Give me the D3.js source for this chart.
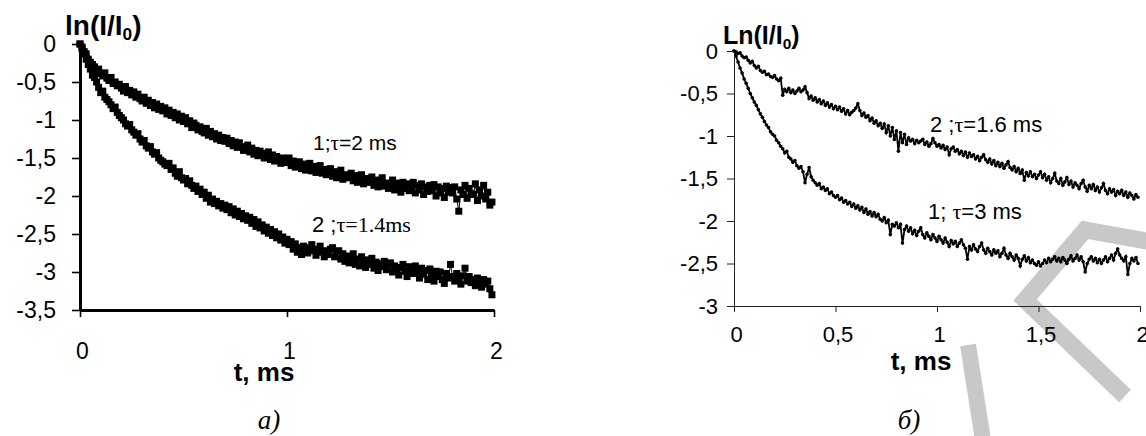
<!DOCTYPE html>
<html>
<head>
<meta charset="utf-8">
<script src="https://cdn.jsdelivr.net/npm/d3@7"></script>
<style>
  body { margin: 0; background: #fff; }
</style>
</head>
<body>
<div id="chart"></div>
<script>
// sampling step (ms) of the recordings
var dtA = 0.01, dtB = 0.01;

// panel a) : 1; tau=2 ms (upper)
var curveA1 = [0, -0.04, -0.1, -0.13, -0.2, -0.24, -0.27, -0.3, -0.36, -0.33,
  -0.39, -0.42, -0.38, -0.45, -0.48, -0.44, -0.52, -0.5, -0.55, -0.53,
  -0.58, -0.62, -0.56, -0.64, -0.61, -0.67, -0.63, -0.7, -0.66, -0.72,
  -0.75, -0.7, -0.78, -0.74, -0.81, -0.77, -0.84, -0.79, -0.86, -0.82,
  -0.88, -0.84, -0.92, -0.87, -0.94, -0.9, -0.97, -0.92, -1.0, -0.95,
  -1.02, -0.97, -1.05, -1.01, -1.1, -1.04, -1.07, -1.13, -1.09, -1.15,
  -1.17, -1.11, -1.2, -1.15, -1.22, -1.18, -1.25, -1.2, -1.27, -1.23,
  -1.28, -1.24, -1.31, -1.27, -1.34, -1.29, -1.36, -1.3, -1.35, -1.4,
  -1.38, -1.33, -1.42, -1.37, -1.45, -1.4, -1.47, -1.41, -1.44, -1.5,
  -1.47, -1.42, -1.52, -1.46, -1.54, -1.48, -1.51, -1.57, -1.5, -1.55,
  -1.56, -1.5, -1.6, -1.54, -1.62, -1.57, -1.55, -1.64, -1.58, -1.66,
  -1.63, -1.57, -1.67, -1.61, -1.69, -1.64, -1.6, -1.7, -1.65, -1.72,
  -1.7, -1.64, -1.74, -1.68, -1.76, -1.7, -1.66, -1.78, -1.72, -1.75,
  -1.76, -1.7, -1.8, -1.73, -1.82, -1.76, -1.72, -1.84, -1.77, -1.81,
  -1.82, -1.75, -1.86, -1.79, -1.88, -1.8, -1.76, -1.87, -1.83, -1.9,
  -1.86, -1.79, -1.92, -1.83, -1.88, -1.95, -1.82, -1.9, -1.84, -1.93,
  -1.9, -1.82, -1.96, -1.86, -1.92, -1.84, -1.98, -1.88, -1.94, -1.86,
  -1.93, -1.85, -2.0, -1.88, -1.96, -1.9, -2.02, -1.87, -1.95, -1.89,
  -1.96, -1.88, -2.04, -2.2, -1.92, -1.98, -1.86, -2.03, -1.9, -1.97,
  -1.98, -1.84, -2.06, -1.92, -2.0, -1.86, -2.04, -1.95, -2.12, -2.08];

// panel a) : 2; tau=1.4 ms (lower)
var curveA2 = [0, -0.06, -0.13, -0.2, -0.27, -0.33, -0.41, -0.44, -0.5, -0.57,
  -0.64, -0.62, -0.7, -0.73, -0.76, -0.8, -0.85, -0.83, -0.9, -0.94,
  -0.97, -1.0, -1.05, -1.08, -1.06, -1.13, -1.16, -1.2, -1.18, -1.25,
  -1.29, -1.27, -1.34, -1.37, -1.35, -1.42, -1.45, -1.43, -1.5, -1.53,
  -1.55, -1.58, -1.6, -1.57, -1.65, -1.63, -1.7, -1.74, -1.68, -1.76,
  -1.79, -1.77, -1.84, -1.8, -1.86, -1.9, -1.87, -1.94, -1.91, -1.98,
  -1.95, -2.03, -1.99, -2.08, -2.04, -2.1, -2.07, -2.13, -2.1, -2.16,
  -2.12, -2.18, -2.14, -2.22, -2.17, -2.25, -2.2, -2.27, -2.23, -2.3,
  -2.26, -2.32, -2.28, -2.36, -2.31, -2.4, -2.34, -2.42, -2.38, -2.46,
  -2.41, -2.49, -2.44, -2.52, -2.47, -2.55, -2.5, -2.58, -2.54, -2.62,
  -2.57, -2.64, -2.6, -2.7, -2.63, -2.74, -2.68, -2.77, -2.66, -2.72,
  -2.75, -2.68, -2.64, -2.72, -2.78, -2.7, -2.66, -2.74, -2.8, -2.72,
  -2.77, -2.7, -2.68, -2.8, -2.74, -2.72, -2.83, -2.76, -2.86, -2.79,
  -2.88, -2.81, -2.76, -2.9, -2.83, -2.92, -2.8, -2.86, -2.94, -2.84,
  -2.9, -2.82, -2.95, -2.87, -2.98, -2.89, -2.93, -2.86, -2.97, -2.91,
  -2.88, -3.0, -2.92, -2.96, -3.04, -2.94, -2.9, -2.99, -3.06, -2.93,
  -2.97, -3.02, -2.92, -3.0, -3.08, -2.95, -3.03, -2.98, -3.1, -2.96,
  -3.04, -3.12, -2.99, -3.06, -3.0, -3.1, -3.15, -3.02, -3.08, -2.9,
  -3.06, -3.12, -3.02, -3.1, -3.16, -3.05, -2.95, -3.12, -3.06, -3.14,
  -3.1, -3.18, -3.08, -3.14, -3.2, -3.1, -3.16, -3.12, -3.22, -3.3];

// panel б) : 2; tau=1.6 ms (upper)
var curveB2 = [0, -0.01, -0.03, -0.02, -0.06, -0.08, -0.07, -0.11, -0.14, -0.12,
  -0.17, -0.2, -0.18, -0.23, -0.25, -0.24, -0.28, -0.27, -0.3, -0.31,
  -0.29, -0.33, -0.35, -0.32, -0.52, -0.45, -0.48, -0.44, -0.49, -0.46,
  -0.5, -0.47, -0.44, -0.48, -0.46, -0.42, -0.49, -0.56, -0.53, -0.58,
  -0.55, -0.6, -0.57, -0.62, -0.59, -0.64, -0.61, -0.66, -0.63, -0.68,
  -0.65, -0.69, -0.66, -0.71, -0.68, -0.74, -0.7, -0.75, -0.72, -0.7,
  -0.67, -0.62, -0.7, -0.76, -0.73, -0.78, -0.76, -0.82, -0.79, -0.85,
  -0.82, -0.88, -0.85, -0.91, -0.86, -0.96, -0.88, -1.0, -0.9, -1.04,
  -0.94, -1.18, -0.96, -1.08, -0.98, -1.1, -1.02, -1.06, -1.04, -1.09,
  -1.05, -1.08, -1.06, -1.04, -1.1, -1.07, -1.12, -1.09, -1.03, -1.08,
  -1.12, -1.1, -1.14, -1.11, -1.16, -1.13, -1.22, -1.15, -1.13, -1.18,
  -1.16, -1.21, -1.18, -1.23, -1.19, -1.25, -1.2, -1.24, -1.22, -1.27,
  -1.24, -1.29, -1.25, -1.22, -1.28, -1.31, -1.27, -1.33, -1.29, -1.35,
  -1.31, -1.36, -1.32, -1.38, -1.34, -1.3, -1.37, -1.4, -1.36, -1.42,
  -1.38, -1.44, -1.4, -1.52, -1.43, -1.47, -1.42, -1.48, -1.45, -1.5,
  -1.46, -1.42, -1.49, -1.45, -1.52, -1.48, -1.55, -1.5, -1.44, -1.53,
  -1.56, -1.5, -1.58, -1.54, -1.49, -1.57, -1.53, -1.6, -1.55, -1.58,
  -1.62, -1.56, -1.52, -1.6, -1.65, -1.58, -1.62, -1.57, -1.64, -1.6,
  -1.66, -1.61, -1.56, -1.64, -1.68, -1.62, -1.66, -1.63, -1.7, -1.65,
  -1.68, -1.64, -1.7, -1.66, -1.72, -1.67, -1.7, -1.74, -1.69, -1.72];

// panel б) : 1; tau=3 ms (lower)
var curveB1 = [0, -0.06, -0.13, -0.2, -0.26, -0.33, -0.38, -0.44, -0.5, -0.55,
  -0.6, -0.64, -0.69, -0.74, -0.78, -0.83, -0.87, -0.9, -0.95, -0.98,
  -1.0, -1.05, -1.08, -1.12, -1.15, -1.2, -1.18, -1.25, -1.27, -1.31,
  -1.29, -1.35, -1.38, -1.36, -1.42, -1.55, -1.45, -1.37, -1.48, -1.52,
  -1.55, -1.58, -1.56, -1.62, -1.6, -1.64, -1.62, -1.68, -1.66, -1.7,
  -1.72, -1.7, -1.75, -1.73, -1.78, -1.76, -1.8, -1.78, -1.83, -1.8,
  -1.85, -1.82, -1.87, -1.84, -1.9, -1.86, -1.92, -1.89, -1.94, -1.9,
  -1.95, -1.92, -1.98, -2.0, -1.96, -2.02, -1.99, -2.16, -2.04, -2.06,
  -2.02, -2.08, -2.04, -2.26, -2.1, -2.06, -2.12, -2.08, -2.15, -2.11,
  -2.17, -2.12, -2.08, -2.16, -2.2, -2.14, -2.18, -2.22, -2.16, -2.2,
  -2.24, -2.18, -2.22, -2.26, -2.2, -2.25, -2.3, -2.23, -2.27, -2.24,
  -2.3, -2.26, -2.22, -2.28, -2.32, -2.45, -2.3, -2.34, -2.28, -2.33,
  -2.36, -2.3, -2.26, -2.34, -2.38, -2.32, -2.36, -2.4, -2.34, -2.38,
  -2.35, -2.42, -2.38, -2.32, -2.4, -2.44, -2.38, -2.42, -2.46, -2.4,
  -2.44, -2.53, -2.45, -2.41, -2.47, -2.43, -2.49, -2.46, -2.5, -2.52,
  -2.48, -2.53, -2.5, -2.46, -2.49, -2.44, -2.48, -2.45, -2.42, -2.47,
  -2.44, -2.48, -2.43, -2.46, -2.5, -2.45, -2.41, -2.47, -2.44, -2.4,
  -2.46, -2.42, -2.48, -2.6, -2.5, -2.45, -2.42, -2.47, -2.44, -2.49,
  -2.45, -2.5, -2.46, -2.42, -2.48, -2.44, -2.4, -2.46, -2.38, -2.33,
  -2.4, -2.44, -2.47, -2.42, -2.63, -2.5, -2.44, -2.47, -2.43, -2.5];

var xTicksA = [0, 1, 2];
var yTicksA = [0, -0.5, -1, -1.5, -2, -2.5, -3, -3.5];
var xTicksB = [0, 0.5, 1, 1.5, 2];
var yTicksB = [0, -0.5, -1, -1.5, -2, -2.5, -3];

var sans = "Arial, 'Liberation Sans', sans-serif";
var serif = "'Liberation Serif', 'Times New Roman', serif";

var width = 1146, height = 436;
var svg = d3.select("#chart").append("svg")
  .attr("width", width)
  .attr("height", height)
  .attr("font-family", sans);

var comma = function(d) { return String(d).replace(".", ","); };

// grey library watermark behind the right panel
svg.append("polyline")
  .attr("points", "1152,242 1085,230 1025,300 1125,396")
  .attr("fill", "none")
  .attr("stroke", "#c8c8c8")
  .attr("stroke-width", 17)
  .attr("stroke-linejoin", "miter");
svg.append("line")
  .attr("x1", 968).attr("y1", 345).attr("x2", 983).attr("y2", 440)
  .attr("stroke", "#c8c8c8")
  .attr("stroke-width", 16);

function toPoints(values, dt) {
  return values.map(function(v, i) { return [i * dt, v]; });
}

function panel(o) {
  var x = d3.scaleLinear().domain([0, 2]).range([o.left, o.right]);
  var y = d3.scaleLinear().domain([o.ymin, 0]).range([o.bottom, o.top]);
  var g = svg.append("g");

  // curves
  o.series.forEach(function(s) {
    var pts = toPoints(s, o.dt);
    g.append("path")
      .datum(pts)
      .attr("fill", "none")
      .attr("stroke", "#000")
      .attr("stroke-width", o.lineWidth)
      .attr("d", d3.line()
        .x(function(d) { return x(d[0]); })
        .y(function(d) { return y(d[1]); }));
    if (o.marker === "square") {
      g.selectAll(null)
        .data(pts)
        .enter()
        .append("rect")
        .attr("x", function(d) { return x(d[0]) - 3.5; })
        .attr("y", function(d) { return y(d[1]) - 3.5; })
        .attr("width", 7)
        .attr("height", 7)
        .attr("fill", "#000");
    } else {
      g.selectAll(null)
        .data(pts)
        .enter()
        .append("circle")
        .attr("cx", function(d) { return x(d[0]); })
        .attr("cy", function(d) { return y(d[1]); })
        .attr("r", 1.8)
        .attr("fill", "#000");
    }
  });

  // X axis
  var ax = g.append("g")
    .attr("transform", "translate(0," + o.bottom + ")")
    .call(d3.axisBottom(x).tickValues(o.xticks).tickFormat(comma)
      .tickSizeInner(o.tick).tickSizeOuter(0).tickPadding(o.xpad));
  // Y axis
  var ay = g.append("g")
    .attr("transform", "translate(" + o.left + ",0)")
    .call(d3.axisLeft(y).tickValues(o.yticks).tickFormat(comma)
      .tickSizeInner(o.tick + 1).tickSizeOuter(0).tickPadding(o.ypad));

  [ax, ay].forEach(function(a) {
    a.attr("font-family", sans)
      .attr("font-size", o.tickFont);
    a.select(".domain").attr("stroke", o.axisColor).attr("stroke-width", o.axisWidth);
    a.selectAll(".tick line").attr("stroke", o.axisColor).attr("stroke-width", o.tickWidth);
    a.selectAll(".tick text").attr("fill", "#000");
  });
  ax.selectAll(".tick text").attr("dx", 2);
  return g;
}

panel({
  left: 80, right: 494, top: 44, bottom: 310, ymin: -3.5,
  dt: dtA, series: [curveA1, curveA2], marker: "square", lineWidth: 1,
  xticks: xTicksA, yticks: yTicksA, tick: 7, xpad: 26, ypad: 16,
  tickFont: 23, axisColor: "#000", axisWidth: 3, tickWidth: 1.6
});

panel({
  left: 734, right: 1140, top: 51, bottom: 306, ymin: -3,
  dt: dtB, series: [curveB2, curveB1], marker: "dot", lineWidth: 1.8,
  xticks: xTicksB, yticks: yTicksB, tick: 6, xpad: 14, ypad: 9,
  tickFont: 22, axisColor: "#222", axisWidth: 1, tickWidth: 1
});

// axis titles
function yTitle(x, y, size, first) {
  var t = svg.append("text")
    .attr("x", x).attr("y", y)
    .attr("font-weight", "bold")
    .attr("font-size", size);
  t.append("tspan").text(first + "(I/I");
  t.append("tspan").attr("font-size", size * 0.62).attr("dy", size * 0.18).text("0");
  t.append("tspan").attr("dy", -size * 0.18).text(")");
}
yTitle(65, 35, 28, "ln");
yTitle(723, 44, 25, "Ln");

svg.append("text").attr("x", 264).attr("y", 381).attr("text-anchor", "middle")
  .attr("font-weight", "bold").attr("font-size", 26).text("t, ms");
svg.append("text").attr("x", 921).attr("y", 370).attr("text-anchor", "middle")
  .attr("font-weight", "bold").attr("font-size", 26).text("t, ms");

// series labels
function label(x, y, size, parts) {
  var t = svg.append("text").attr("x", x).attr("y", y).attr("font-size", size);
  parts.forEach(function(p) {
    var s = t.append("tspan").text(p[0]);
    if (p[1]) s.attr("font-family", serif);
  });
}
label(313, 150, 21, [["1;"], ["τ", true], ["=2 ms"]]);
label(312, 232, 22, [["2 ;"], ["τ=1.4ms", true]]);
label(930, 132, 22, [["2 ;"], ["τ", true], ["=1.6 ms"]]);
label(928, 219, 22, [["1; "], ["τ", true], ["=3 ms"]]);

// panel captions
svg.append("text").attr("x", 269).attr("y", 429).attr("text-anchor", "middle")
  .attr("font-family", serif)
  .attr("font-style", "italic").attr("font-size", 27).text("а)");
svg.append("text").attr("x", 909).attr("y", 429).attr("text-anchor", "middle")
  .attr("font-family", serif)
  .attr("font-style", "italic").attr("font-size", 27).text("б)");
</script>
</body>
</html>
